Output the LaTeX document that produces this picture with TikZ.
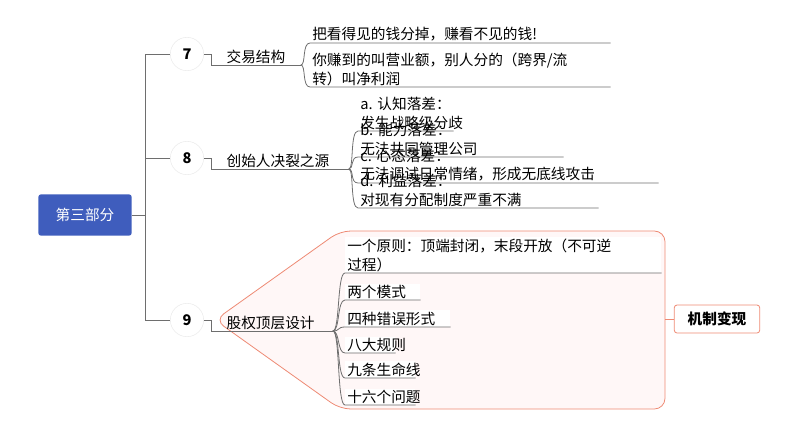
\documentclass[tikz,border=0pt]{standalone}
\usepackage{fontspec}
\setmainfont{Noto Sans CJK SC}
\usetikzlibrary{positioning}
\definecolor{rootblue}{HTML}{3F5DBD}
\definecolor{salmon}{HTML}{EE8A74}
\definecolor{pinkbg}{HTML}{FFF7F7}
\definecolor{linegray}{HTML}{6E6E6E}

\begin{document}
\begin{tikzpicture}[x=0.75pt,y=-0.75pt,font=\fontsize{11}{14}\selectfont]
  \tikzset{
    rootbox/.style={fill=rootblue, text=white, rounded corners=2pt, minimum width=70pt, minimum height=31pt},
    numdot/.style={circle, draw=black!8, fill=white, minimum size=25pt, inner sep=0pt, font=\fontsize{11}{14}\selectfont\bfseries},
    item/.style={anchor=south west, inner xsep=1.5pt, inner ysep=1pt, align=left},
    conn/.style={draw=linegray, line width=0.6pt}
  }
  \useasboundingbox (0,0) rectangle (800,430);

  % — callout behind topic 9 —
  \draw[salmon, fill=pinkbg, line width=0.6pt, rounded corners=8pt]
    (215,320) -- (340,231) -- (665,231) -- (665,409) -- (340,409) -- cycle;

  % — root and trunk —
  \node[rootbox] (root) at (85,215) {第三部分};
  \coordinate (trunk) at (145,215);
  \draw[conn] (root.east) -- (trunk);
  \draw[conn] (145,54) -- (145,320);

  \node[numdot] (n7) at (187,54) {7};
  \node[numdot] (n8) at (187,158) {8};
  \node[numdot] (n9) at (187,320) {9};
  \foreach \n/\y in {n7/54, n8/158, n9/320}
    \draw[conn] (145,\y) -- (\n.west);

  % — topic 7 —
  \node[item, text width=64pt] (t7) at (211,65) {\hspace{10pt}交易结构};
  \draw[conn] (n7.east) -| (t7.south west) -- (t7.south east);
  \node[item, text width=222pt] (s71) at (310,43) {把看得见的钱分掉，赚看不见的钱!};
  \node[item, text width=222pt] (s72) at (310,87) {你赚到的叫营业额，别人分的（跨界/流\\转）叫净利润};
  \foreach \s in {s71,s72}
    \draw[conn] (t7.south east) .. controls (306,65) and (302,0|-\s.south west) .. (\s.south west) -- (\s.south east);

  % — topic 8 —
  \node[item, text width=100pt] (t8) at (211,169) {\hspace{10pt}创始人决裂之源};
  \draw[conn] (n8.east) -| (t8.south west) -- (t8.south east);
  \foreach \k/\y/\w/\lab/\txt in {
      a/131/95/a.~认知落差：/发生战略级分歧,
      b/157/205/b.~能力落差：/无法共同管理公司,
      c/183/300/c.~心态落差：/无法调试日常情绪，形成无底线攻击,
      d/208/240/d.~利益落差：/对现有分配制度严重不满} {
    \node[item, text width=\w*0.75pt-3pt] (s8\k) at (358,\y) {\lab\hspace{14pt}\txt};
    \draw[conn] (t8.south east) .. controls (354,169) and (350,\y) .. (s8\k.south west) -- (s8\k.south east);
  }

  % — topic 9 —
  \node[item, text width=88pt] (t9) at (211,331) {\hspace{10pt}股权顶层设计};
  \draw[conn] (n9.east) -| (t9.south west) -- (t9.south east);
  \node[item, fill=white, text width=234pt] (s91) at (345,273) {一个原则：顶端封闭，末段开放（不可逆\\过程）};
  \draw[conn] (t9.south east) .. controls (340,331) and (337,273) .. (s91.south west) -- (s91.south east);
  \foreach \k/\y/\w/\txt in {
      2/300/75/两个模式, 3/327/105/四种错误形式, 4/353/50/八大规则,
      5/378/70/九条生命线, 6/405/70/十六个问题} {
    \node[item, fill=white, text width=\w*0.75pt-3pt] (s9\k) at (345,\y) {\txt};
    \draw[conn] (t9.south east) .. controls (340,331) and (337,\y) .. (s9\k.south west) -- (s9\k.south east);
  }

  % — summary box —
  \node[draw=salmon, fill=white, rounded corners=2pt, line width=0.6pt, minimum width=64pt, minimum height=21pt, font=\fontsize{11}{14}\selectfont\bfseries] (mech) at (717,319) {机制变现};
  \draw[salmon, line width=0.6pt] (665,319) -- (mech.west);
\end{tikzpicture}
\end{document}
